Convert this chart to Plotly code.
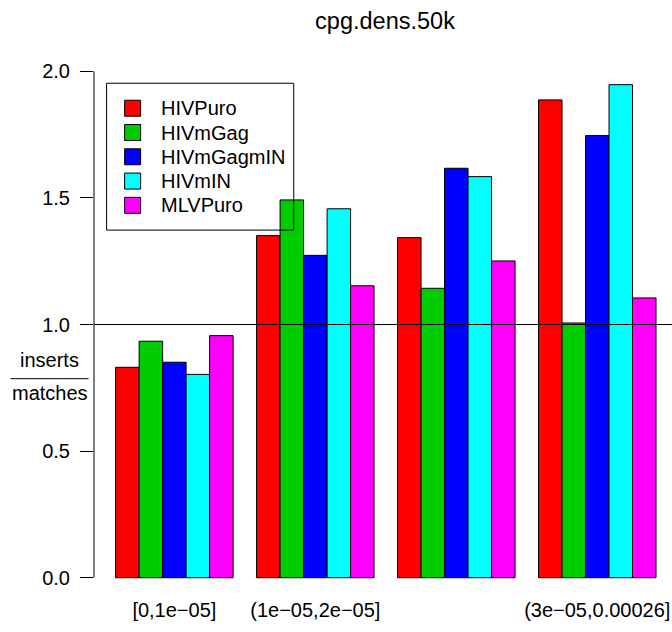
import plotly.graph_objects as go

categories = ["[0,1e\u221205]", "(1e\u221205,2e\u221205]", "(2e\u221205,3e\u221205]", "(3e\u221205,0.00026]"]
tick_labels = ["[0,1e\u221205]", "(1e\u221205,2e\u221205]", "", "(3e\u221205,0.00026]"]
series_names = ["HIVPuro", "HIVmGag", "HIVmGagmIN", "HIVmIN", "MLVPuro"]
HIVPuro = [0.831, 1.351, 1.343, 1.887]
HIVmGag = [0.934, 1.492, 1.143, 1.006]
HIVmGagmIN = [0.851, 1.273, 1.617, 1.746]
HIVmIN = [0.803, 1.457, 1.584, 1.947]
MLVPuro = [0.956, 1.153, 1.251, 1.105]
series_values = [HIVPuro, HIVmGag, HIVmGagmIN, HIVmIN, MLVPuro]
colors = ["#FF0000", "#00CD00", "#0000FF", "#00FFFF", "#FF00FF"]
y_ticks = [0.0, 0.5, 1.0, 1.5, 2.0]
ref_value = 1.0

FONT = "Liberation Sans, Arial, Helvetica, sans-serif"

W, H = 672, 632
ml, mr, mt, mb = 94.4, 0, 50.7, 33.7
pw = W - ml - mr
ph = H - mt - mb


def pxx(px):
    return (px - ml) / pw


def pxy(py):
    return (H - mb - py) / ph


fig = go.Figure()
for name, vals, col in zip(series_names, series_values, colors):
    fig.add_trace(go.Bar(
        x=categories, y=vals, name=name,
        marker=dict(color=col, line=dict(color="black", width=1)),
    ))

fig.update_layout(
    width=W, height=H,
    margin=dict(l=ml, r=mr, t=mt, b=mb, pad=0),
    paper_bgcolor="white", plot_bgcolor="white",
    barmode="group", bargap=1/6, bargroupgap=0,
    font=dict(family=FONT, size=20, color="black"),
    title=dict(text="cpg.dens.50k", x=385/W, xref="container", xanchor="center",
               y=1 - 21/H, yref="container", yanchor="middle",
               font=dict(family=FONT, size=23.5, color="black")),
    showlegend=False,
)

fig.update_xaxes(
    type="category", range=[-0.57, 3.53],
    tickmode="array", tickvals=categories, ticktext=tick_labels,
    showline=False, showgrid=False, zeroline=False, ticks="",
    tickfont=dict(family=FONT, size=20, color="black"),
    ticklabelstandoff=-2,
)
fig.update_yaxes(
    range=[-0.08, 2.08], tickmode="array", tickvals=y_ticks,
    ticktext=[f"{v:.1f}" for v in y_ticks],
    showline=False, showgrid=False, zeroline=False,
    ticks="outside", ticklen=13, tickwidth=1, tickcolor="black",
    tickfont=dict(family=FONT, size=20, color="black"),
    ticklabelstandoff=6,
)

# y axis line (R style: from first to last tick)
fig.add_shape(type="line", xref="paper", yref="y", x0=0, x1=0,
              y0=y_ticks[0], y1=y_ticks[-1], line=dict(color="black", width=1))
# reference line at 1.0
fig.add_shape(type="line", xref="paper", yref="y", x0=0, x1=1,
              y0=ref_value, y1=ref_value, line=dict(color="black", width=1), layer="above")

# fraction y-label
fig.add_annotation(text="inserts", xref="paper", yref="y", x=pxx(50), y=0.86,
                   xanchor="center", yanchor="middle", showarrow=False,
                   font=dict(family=FONT, size=20, color="black"))
fig.add_annotation(text="matches", xref="paper", yref="y", x=pxx(50), y=0.73,
                   xanchor="center", yanchor="middle", showarrow=False,
                   font=dict(family=FONT, size=20, color="black"))
fig.add_shape(type="line", xref="paper", yref="y", x0=pxx(11), x1=pxx(89),
              y0=0.786, y1=0.786, line=dict(color="black", width=1))

# legend box (R style, transparent background)
fig.add_shape(type="rect", xref="paper", yref="paper",
              x0=pxx(107), x1=pxx(294), y0=pxy(230), y1=pxy(83),
              line=dict(color="black", width=1), fillcolor="rgba(0,0,0,0)", layer="above")
row0, row_step = 108.0, 24.3
for i, (name, col) in enumerate(zip(series_names, colors)):
    cy = row0 + i * row_step
    fig.add_shape(type="rect", xref="paper", yref="paper",
                  x0=pxx(125), x1=pxx(141), y0=pxy(cy + 8), y1=pxy(cy - 8),
                  line=dict(color="black", width=1), fillcolor=col, layer="above")
    fig.add_annotation(text=name, xref="paper", yref="paper", x=pxx(159), y=pxy(cy),
                       xanchor="left", yanchor="middle", showarrow=False,
                       font=dict(family=FONT, size=20, color="black"))

fig.write_html("out.html")
